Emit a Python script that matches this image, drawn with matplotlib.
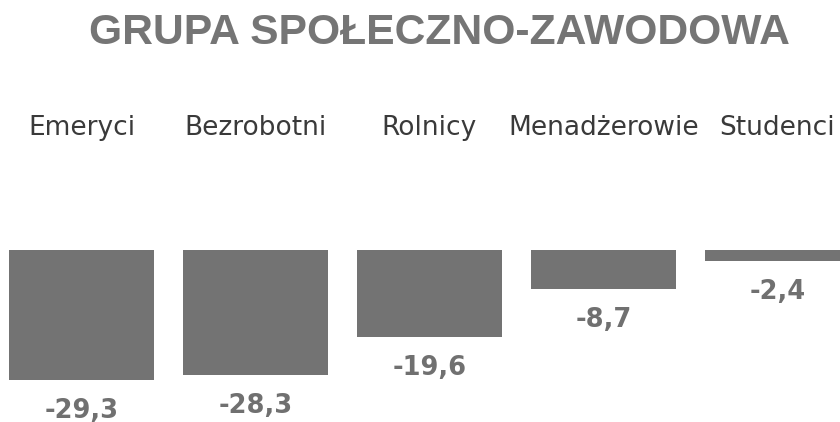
import matplotlib.pyplot as plt
import matplotlib.transforms as mtransforms

# dane
grupy = ["Emeryci", "Bezrobotni", "Rolnicy", "Menadżerowie", "Studenci"]
wartosci = [-29.3, -28.3, -19.6, -8.7, -2.4]
etykiety = ["-29,3", "-28,3", "-19,6", "-8,7", "-2,4"]

kolor_slupka = "#737373"
kolor_tytulu = "#757575"

fig = plt.figure(figsize=(8.4, 4.22), dpi=100)
ax = fig.add_axes([0, 0, 1, 1])

x = list(range(len(grupy)))
ax.bar(x, wartosci, width=0.833, color=kolor_slupka, linewidth=0)

# skala dobrana tak, by zero bylo ok. 250 px od gory
ax.set_xlim(-0.468, 4.359)
ax.set_ylim(-38.9, 56.6)
ax.axis("off")

for xi, v, txt in zip(x, wartosci, etykiety):
    ax.annotate(txt, (xi, v), xytext=(0, -13), textcoords="offset points",
                ha="center", va="top", fontsize=18.5, fontweight="bold",
                color="#707070", family="DejaVu Sans")

tr = mtransforms.blended_transform_factory(ax.transData, ax.transAxes)
for xi, g in zip(x, grupy):
    ax.text(xi, 1 - 135 / 422, g, transform=tr, ha="center", va="baseline",
            fontsize=19, color="#3a3a3a", family="DejaVu Sans")

fig.text(439 / 840, 1 - 44 / 422, "GRUPA SPOŁECZNO-ZAWODOWA", ha="center",
         va="baseline", fontsize=30.7, fontweight="bold", color=kolor_tytulu,
         family="Liberation Sans")

fig.savefig("out.png", dpi=100)
